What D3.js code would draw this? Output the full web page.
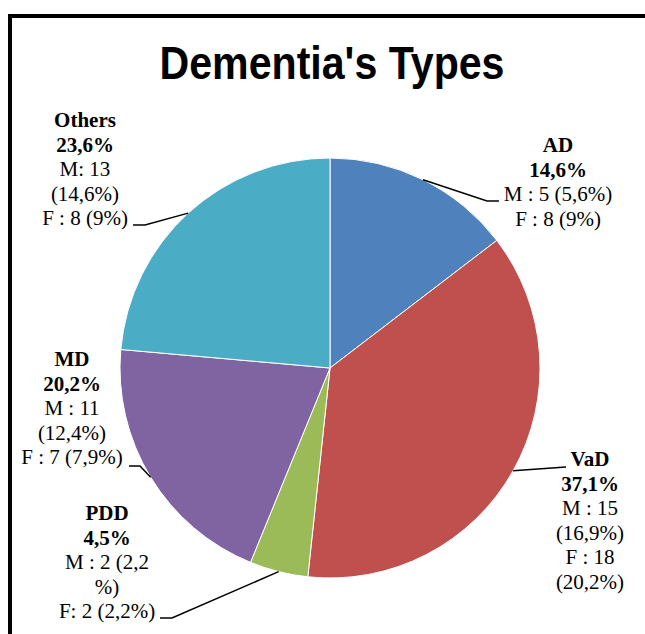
<!DOCTYPE html>
<html><head><meta charset="utf-8">
<script src="https://cdn.jsdelivr.net/npm/d3@7"></script>
<style>body{margin:0;background:#fff;} svg{display:block;} .lbl{font-family:"Liberation Serif","Times New Roman","DejaVu Serif",serif;}</style>
</head><body>
<svg id="chart" width="645" height="634"></svg>
<script>
// ---- data ----
const categories = ["AD", "VaD", "PDD", "MD", "Others"];
const counts = [13, 33, 4, 18, 21];
const percentLabels = ["14,6%", "37,1%", "4,5%", "20,2%", "23,6%"];
const detailLines = [
  ["M : 5 (5,6%)", "F : 8 (9%)"],
  ["M : 15", "(16,9%)", "F : 18", "(20,2%)"],
  ["M : 2 (2,2", "%)", "F: 2 (2,2%)"],
  ["M : 11", "(12,4%)", "F : 7 (7,9%)"],
  ["M: 13", "(14,6%)", "F : 8 (9%)"]
];
const colors = ["#4F81BD", "#C0504D", "#9BBB59", "#8064A2", "#4BACC6"];
const title = "Dementia's Types";

// ---- layout ----
const cx = 330, cy = 368, R = 210;
const lineH = 24.5;
const labelLayout = [
  {x: 558, y: 152, elbow: [[487, 201], [499, 201]]},
  {x: 590, y: 466, elbow: [[566, 467]]},
  {x: 107, y: 520, elbow: [[172, 618], [160, 618]]},
  {x: 72,  y: 366, elbow: [[140, 466], [129, 466]]},
  {x: 85,  y: 127, elbow: [[145, 225], [133, 225]]}
];

const svg = d3.select("#chart");

svg.append("rect").attr("x", 10).attr("y", 16).attr("width", 800).attr("height", 800)
  .attr("fill", "none").attr("stroke", "#000").attr("stroke-width", 4);

svg.append("text").attr("x", 332).attr("y", 79).attr("text-anchor", "middle")
  .style("font-family", "'Liberation Sans', Arial, sans-serif").attr("font-weight", "bold")
  .attr("font-size", 46).attr("textLength", 345).attr("lengthAdjust", "spacingAndGlyphs")
  .text(title);

const pie = d3.pie().sort(null).value(d => d)(counts);
const arc = d3.arc().innerRadius(0).outerRadius(R);

const g = svg.append("g").attr("transform", `translate(${cx},${cy})`);
g.selectAll("path").data(pie).join("path")
  .attr("d", arc).attr("fill", (d, i) => colors[i])
  .attr("stroke", "#fff").attr("stroke-width", 1);

pie.forEach((d, i) => {
  const a = (d.startAngle + d.endAngle) / 2;
  const p0 = [cx + R * Math.sin(a), cy - R * Math.cos(a)];
  const pts = [p0, ...labelLayout[i].elbow];
  svg.append("path").attr("d", d3.line()(pts))
    .attr("fill", "none").attr("stroke", "#000").attr("stroke-width", 1.5);
});

categories.forEach((c, i) => {
  const L = labelLayout[i];
  const lines = [{t: c, b: true}, {t: percentLabels[i], b: true}, ...detailLines[i].map(t => ({t, b: false}))];
  const t = svg.append("text").attr("class", "lbl").attr("text-anchor", "middle")
    .attr("font-size", 21).attr("fill", "#000");
  lines.forEach((ln, k) => {
    t.append("tspan").attr("class", "lbl").attr("x", L.x).attr("y", L.y + k * lineH)
      .attr("font-weight", ln.b ? "bold" : "normal").text(ln.t);
  });
});
</script>
</body></html>
